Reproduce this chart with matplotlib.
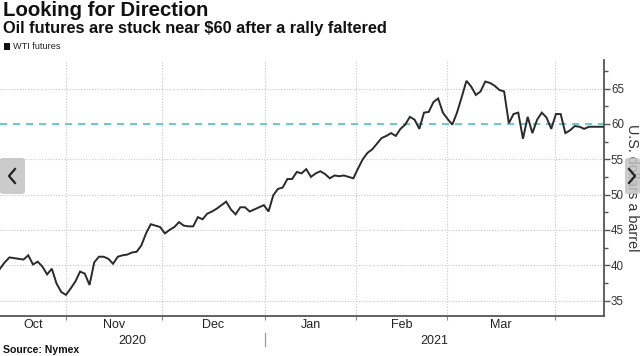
import matplotlib
matplotlib.use("Agg")
import matplotlib.pyplot as plt
from matplotlib.patches import FancyBboxPatch
from matplotlib.lines import Line2D

# ---- data (WTI futures, one value per trading day) ----
wti = [39.5, 40.4, 41.1, 41.0, 40.9, 40.8, 41.4, 40.1, 40.5, 39.8,
       38.7, 39.5, 37.4, 36.2, 35.8, 36.7, 37.7, 39.1, 38.8, 37.2,
       40.4, 41.2, 41.2, 40.9, 40.2, 41.2, 41.4, 41.5, 41.8, 41.9,
       42.8, 44.5, 45.8, 45.6, 45.4, 44.5, 45.0, 45.4, 46.1, 45.6,
       45.5, 45.5, 46.8, 46.5, 47.3, 47.6, 48.0, 48.5, 49.0, 47.9,
       47.2, 48.2, 48.2, 47.6, 47.9, 48.2, 48.5, 47.6, 49.9, 50.8,
       51.0, 52.2, 52.2, 53.2, 53.0, 53.6, 52.5, 53.0, 53.3, 52.9,
       52.3, 52.7, 52.6, 52.7, 52.5, 52.3, 53.7, 55.0, 55.9, 56.4,
       57.2, 58.0, 58.3, 58.7, 58.3, 59.3, 59.9, 61.0, 60.6, 59.3,
       61.6, 61.7, 63.1, 63.6, 61.6, 60.7, 59.9, 61.6, 63.8, 66.1,
       65.3, 64.1, 64.6, 66.0, 65.8, 65.4, 64.8, 64.6, 60.1, 61.4,
       61.6, 57.9, 61.0, 58.7, 60.6, 61.6, 60.9, 59.3, 61.4, 61.4,
       58.7, 59.1, 59.7, 59.6, 59.3, 59.6, 59.6, 59.6, 59.6]
days = list(range(len(wti)))

# month boundaries (trading-day index) and labels between them
month_bounds = [0, 14.0, 34.3, 56.3, 75.6, 94.8, 117.8]
month_labels = ["Oct", "Nov", "Dec", "Jan", "Feb", "Mar"]
year_labels = ["2020", "2021"]
year_split = 56.3
x_end = 128.2

y_ticks = [35, 40, 45, 50, 55, 60, 65]
reference_level = 60

title = "Looking for Direction"
subtitle = "Oil futures are stuck near $60 after a rally faltered"
series_name = "WTI futures"
y_label = "U.S. dollars a barrel"
source = "Source: Nymex"

FONT = ["Liberation Sans", "DejaVu Sans"]
plt.rcParams["font.family"] = FONT

W, H = 640, 356
fig = plt.figure(figsize=(W / 100, H / 100), dpi=100)
fig.patch.set_facecolor("white")

def fx(px):
    return px / W

def fy(py):
    return 1 - py / H

ax = fig.add_axes([0, fy(315.7), fx(604), fy(60) - fy(315.7)])
ax.set_xlim(0, x_end)
ax.set_ylim(32.85, 69.05)

# grid
for v in y_ticks:
    if v == reference_level:
        continue
    ax.axhline(v, color="#c9c9c9", lw=0.8, ls=(0, (1, 1.5)), zorder=1)
for b in month_bounds[1:]:
    ax.axvline(b, color="#c9c9c9", lw=0.8, ls=(0, (1, 1.5)), zorder=1)

ax.axhline(reference_level, color="#5cc5c6", lw=1.3, ls=(0, (4, 3.2)), zorder=2)

ax.plot(days, wti, color="#2a2a2a", lw=1.4, zorder=3, solid_joinstyle="miter")

# spines
for s in ["left", "top"]:
    ax.spines[s].set_visible(False)
for s in ["right", "bottom"]:
    ax.spines[s].set_color("#555555")
    ax.spines[s].set_linewidth(1.3)

# y axis on right
ax.yaxis.tick_right()
ax.set_yticks(y_ticks)
ax.set_yticks([v + 2.5 for v in y_ticks], minor=True)
ax.tick_params(axis="y", which="major", length=4, width=1, color="#555555",
               labelsize=8.3, labelcolor="#333333", pad=1)
ax.tick_params(axis="y", which="minor", length=3, width=1, color="#555555")

# x ticks at month boundaries, labels placed between
ax.set_xticks(month_bounds[1:])
ax.set_xticklabels([])
ax.tick_params(axis="x", length=3, width=0.8, color="#888888")
for i, lab in enumerate(month_labels):
    c = (month_bounds[i] + month_bounds[i + 1]) / 2
    ax.text(c, -0.035, lab, transform=ax.get_xaxis_transform(), ha="center",
            va="center", fontsize=9, color="#222222")
ax.text(year_split / 2, -0.1, year_labels[0], transform=ax.get_xaxis_transform(),
        ha="center", va="center", fontsize=9, color="#222222")
ax.text((year_split + x_end) / 2, -0.1, year_labels[1], transform=ax.get_xaxis_transform(),
        ha="center", va="center", fontsize=9, color="#222222")
ax.add_line(Line2D([year_split, year_split], [-0.068, -0.118], transform=ax.get_xaxis_transform(),
                   color="#999999", lw=0.9, clip_on=False))

# y label
fig.text(fx(632), fy(188), y_label, rotation=-90, ha="center", va="center",
         fontsize=10.4, color="#333333")

# titles
fig.text(fx(3), fy(11), title, fontsize=14.7, fontweight="bold", ha="left", va="center",
         color="#111111")
fig.text(fx(3), fy(29), subtitle, fontsize=11.8, fontweight="bold", ha="left", va="center",
         color="#111111")

# legend
fig.patches.append(FancyBboxPatch((fx(4), fy(50)), fx(6), fy(43) - fy(50),
                                  boxstyle="square,pad=0", transform=fig.transFigure,
                                  facecolor="#111111", edgecolor="none"))
fig.text(fx(13), fy(46.5), series_name, fontsize=6.6, ha="left", va="center", color="#222222")

# source
fig.text(fx(3), fy(350), source, fontsize=7.6, fontweight="bold", ha="left", va="center",
         color="#111111")

# carousel nav overlays
for (x0, x1, pts) in [(0, 25, [(15, 169), (9, 176), (15, 183)]),
                      (625, 640, [(629, 169), (635, 176), (629, 183)])]:
    fig.patches.append(FancyBboxPatch((fx(x0), fy(194)), fx(x1 - x0), fy(158) - fy(194),
                                      boxstyle="round,pad=0,rounding_size=0.006",
                                      transform=fig.transFigure, facecolor="#c2c2c2",
                                      edgecolor="none", alpha=0.85, zorder=10))
    fig.lines.append(Line2D([fx(p[0]) for p in pts], [fy(p[1]) for p in pts],
                            transform=fig.transFigure, color="#222222", lw=1.6, zorder=11))

fig.savefig("out.png", dpi=100, facecolor="white")
